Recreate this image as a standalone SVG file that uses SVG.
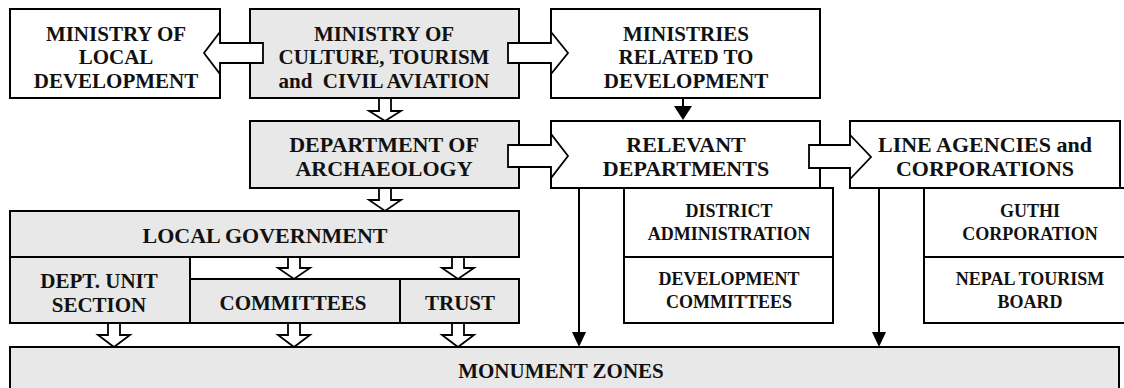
<svg xmlns="http://www.w3.org/2000/svg" width="1124" height="388" viewBox="0 0 1124 388">
<style>
.box{stroke:#000;stroke-width:2;}
.g{fill:#e8e8e8;}
.w{fill:#fff;}
.t{font-family:"Liberation Serif","Times New Roman",serif;font-weight:bold;fill:#111;text-anchor:middle;}
.f21{font-size:21px;}
.f22{font-size:22px;}
.f18{font-size:18px;}
.ha{fill:#fff;stroke:#000;stroke-width:1.8;stroke-linejoin:miter;}
.ln{stroke:#000;stroke-width:2;fill:none;}
.ah{fill:#000;}
</style>
<rect width="1124" height="388" fill="#fff"/>

<g id="monument-zones">
<rect class="box g" x="10" y="347" width="1109" height="50"/>
<text class="t f21" x="561" y="378">MONUMENT ZONES</text>
</g>

<g id="ministry-local-development">
<rect class="box w" x="10" y="9" width="210" height="89"/>
<text class="t f21" x="116" y="41">MINISTRY OF</text>
<text class="t f21" x="116" y="64">LOCAL</text>
<text class="t f21" x="116" y="88">DEVELOPMENT</text>
</g>

<g id="ministry-culture">
<rect class="box g" x="250" y="9" width="269" height="89"/>
<text class="t f21" x="384" y="41">MINISTRY OF</text>
<text class="t f21" x="384" y="64">CULTURE, TOURISM</text>
<text class="t f21" x="384" y="88" xml:space="preserve">and  CIVIL AVIATION</text>
</g>

<g id="ministries-development">
<rect class="box w" x="551" y="9" width="269" height="89"/>
<text class="t f21" x="686" y="41">MINISTRIES</text>
<text class="t f21" x="686" y="64">RELATED TO</text>
<text class="t f21" x="686" y="88">DEVELOPMENT</text>
</g>

<g id="dept-archaeology">
<rect class="box g" x="250" y="121" width="269" height="67"/>
<text class="t f22" x="384" y="152">DEPARTMENT OF</text>
<text class="t f22" x="384" y="176">ARCHAEOLOGY</text>
</g>

<g id="relevant-departments">
<rect class="box w" x="551" y="121" width="269" height="67"/>
<text class="t f22" x="686" y="152">RELEVANT</text>
<text class="t f22" x="686" y="176">DEPARTMENTS</text>
</g>

<g id="line-agencies">
<rect class="box w" x="850" y="121" width="270" height="67"/>
<text class="t f22" x="985" y="152">LINE AGENCIES and</text>
<text class="t f22" x="985" y="176">CORPORATIONS</text>
</g>

<g id="district-administration">
<rect class="box w" x="624" y="188" width="209" height="69"/>
<text class="t f18" x="729" y="217">DISTRICT</text>
<text class="t f18" x="729" y="240">ADMINISTRATION</text>
</g>

<g id="development-committees">
<rect class="box w" x="624" y="257" width="209" height="66"/>
<text class="t f18" x="729" y="285">DEVELOPMENT</text>
<text class="t f18" x="729" y="308">COMMITTEES</text>
</g>

<g id="guthi-corporation">
<rect class="box w" x="924" y="188" width="212" height="69"/>
<text class="t f18" x="1030" y="217">GUTHI</text>
<text class="t f18" x="1030" y="240">CORPORATION</text>
</g>

<g id="nepal-tourism-board">
<rect class="box w" x="924" y="257" width="212" height="66"/>
<text class="t f18" x="1030" y="285">NEPAL TOURISM</text>
<text class="t f18" x="1030" y="308">BOARD</text>
</g>

<g id="local-government">
<rect class="box g" x="10" y="211" width="509" height="46"/>
<text class="t f22" x="265" y="243">LOCAL GOVERNMENT</text>
</g>

<g id="dept-unit-section">
<rect class="box g" x="10" y="257" width="180" height="66"/>
<text class="t f21" x="99" y="288">DEPT. UNIT</text>
<text class="t f21" x="99" y="312">SECTION</text>
</g>

<g id="committees">
<rect class="box g" x="190" y="279" width="210" height="44"/>
<text class="t f21" x="293" y="310">COMMITTEES</text>
</g>

<g id="trust">
<rect class="box g" x="400" y="279" width="119" height="44"/>
<text class="t f21" x="460" y="310">TRUST</text>
</g>

<g id="connectors">
<!-- hollow side arrows -->
<polygon class="ha" points="263,43 220,43 220,32 204,53 220,74 220,63 263,63"/>
<polygon class="ha" points="508,43 551,43 551,32 568,53 551,74 551,63 508,63"/>
<polygon class="ha" points="508,145 551,145 551,134 568,156 551,178 551,167 508,167"/>
<polygon class="ha" points="809,145 850,145 850,135 871,157 850,179 850,168 809,168"/>
<!-- hollow down arrows -->
<polygon class="ha" points="379,98 391,98 391,111 401,111 385,121 369,111 379,111"/>
<polygon class="ha" points="379,188 391,188 391,200 401,200 385,211 369,200 379,200"/>
<polygon class="ha" points="288,257 300,257 300,268 310,268 294,279 278,268 288,268"/>
<polygon class="ha" points="452,257 464,257 464,268 474,268 458,279 442,268 452,268"/>
<polygon class="ha" points="108,323 120,323 120,335 130,335 114,347 98,335 108,335"/>
<polygon class="ha" points="288,323 300,323 300,335 310,335 294,347 278,335 288,335"/>
<polygon class="ha" points="452,323 464,323 464,335 474,335 458,347 442,335 452,335"/>
<!-- solid arrows -->
<line class="ln" x1="683" y1="98" x2="683" y2="107"/>
<polygon class="ah" points="674,106 692,106 683,120"/>
<line class="ln" x1="579" y1="187" x2="579" y2="333"/>
<polygon class="ah" points="572,332 586,332 579,347"/>
<line class="ln" x1="879" y1="187" x2="879" y2="333"/>
<polygon class="ah" points="872,332 886,332 879,347"/>
</g>
</svg>
